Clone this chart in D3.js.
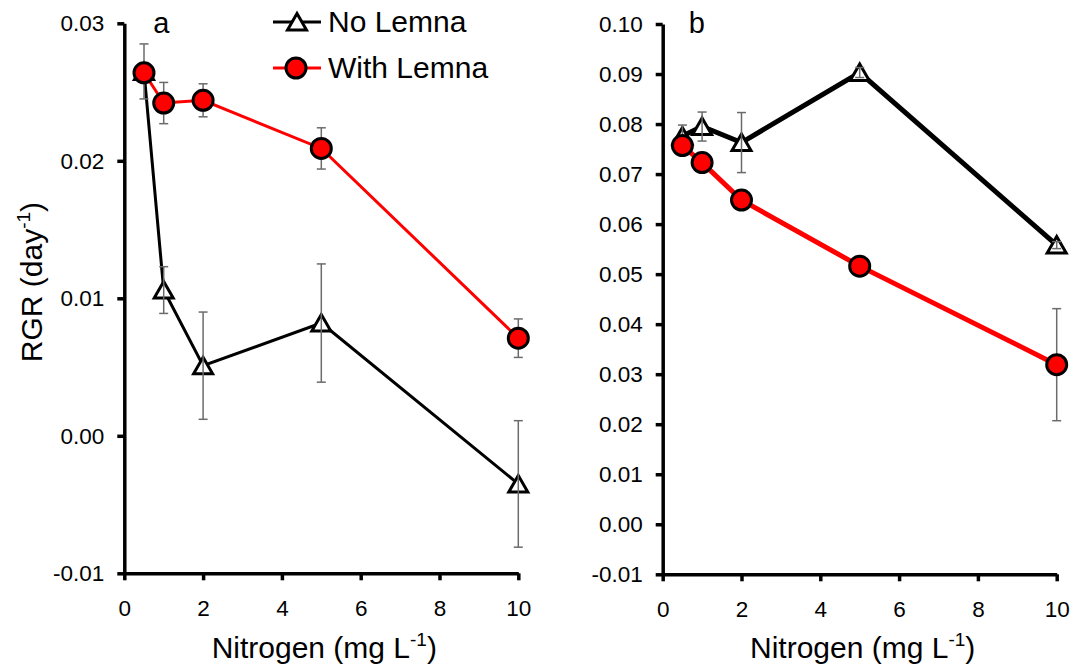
<!DOCTYPE html>
<html>
<head>
<meta charset="utf-8">
<script src="https://cdn.jsdelivr.net/npm/d3@7"></script>
<style>
  body { margin: 0; background: #fff; }
  svg { display: block; font-family: "Liberation Sans", Arial, sans-serif; }
</style>
</head>
<body>
<svg id="chart" width="1074" height="665"></svg>
<script>
// nitrogen levels (mg/L)
const nitrogen = [0.5, 1, 2, 5, 10];
const xTicks = [0, 2, 4, 6, 8, 10];

// panel a
const aNoLemna = [0.0265, 0.0106, 0.0051, 0.0082, -0.0035];
const aNoLemnaErr = [0.0020, 0.0017, 0.0039, 0.0043, 0.0046];
const aWithLemna = [0.0264, 0.0242, 0.0244, 0.0209, 0.0071];
const aWithLemnaErr = [0.0005, 0.0015, 0.0012, 0.0015, 0.0014];
const aTicks = [-0.01, 0, 0.01, 0.02, 0.03];

// panel b
const bNoLemna = [0.0776, 0.0795, 0.0763, 0.0903, 0.0558];
const bNoLemnaErr = [0.0022, 0.0029, 0.0060, 0.0010, 0.0007];
const bWithLemna = [0.0757, 0.0723, 0.0648, 0.0516, 0.0319];
const bWithLemnaErr = [0.0008, 0.0006, 0.0015, 0.0005, 0.0112];
const bTicks = [-0.01, 0, 0.01, 0.02, 0.03, 0.04, 0.05, 0.06, 0.07, 0.08, 0.09, 0.10];

const seriesNames = ["No Lemna", "With Lemna"];

const svg = d3.select("#chart");
svg.append("rect").attr("width", 1074).attr("height", 665).attr("fill", "#fff");

const triPath = "M0,-8.5L9.5,8L-9.5,8Z";

function pack(vals, errs) {
  return nitrogen.map((n, i) => ({ n: n, v: vals[i], e: errs[i] }));
}

function drawPanel(p) {
  const x = d3.scaleLinear().domain([0, 10]).range(p.xr);
  const y = d3.scaleLinear().domain(p.yd).range(p.yr);
  const g = svg.append("g");

  // axes
  const yAxis = g.append("g")
    .attr("transform", `translate(${p.xr[0]},0)`)
    .call(d3.axisLeft(y).tickValues(p.ticks).tickSize(7).tickSizeOuter(0)
      .tickPadding(13).tickFormat((d) => d.toFixed(2)));
  const xAxis = g.append("g")
    .attr("transform", `translate(0,${p.yr[0]})`)
    .call(d3.axisBottom(x).tickValues(xTicks).tickSize(7).tickSizeOuter(0)
      .tickPadding(15).tickFormat((d) => d));
  [yAxis, xAxis].forEach((a) => {
    a.selectAll("path, line").attr("stroke", "#000").attr("stroke-width", 3.5);
    a.selectAll("text").attr("fill", "#000").style("font-size", "22.5px").attr("font-family", null);
  });
  xAxis.selectAll("text").attr("dy", "0.9em");

  const line = d3.line().x((d) => x(d.n)).y((d) => y(d.v));

  function errBars(data) {
    const eb = g.append("g").attr("stroke", "#6b6b6b").attr("stroke-width", 1.5);
    data.forEach((d) => {
      const cx = x(d.n), y1 = y(d.v + d.e), y2 = y(d.v - d.e);
      eb.append("line").attr("x1", cx).attr("x2", cx).attr("y1", y1).attr("y2", y2);
      eb.append("line").attr("x1", cx - 4.5).attr("x2", cx + 4.5).attr("y1", y1).attr("y2", y1);
      eb.append("line").attr("x1", cx - 4.5).attr("x2", cx + 4.5).attr("y1", y2).attr("y2", y2);
    });
  }

  // No Lemna
  const noL = pack(p.noL, p.noLErr);
  g.append("path").datum(noL).attr("d", line)
    .attr("fill", "none").attr("stroke", "#000").attr("stroke-width", p.lw);
  g.selectAll(".tri").data(noL).join("path").attr("class", "tri")
    .attr("d", triPath)
    .attr("transform", (d) => `translate(${x(d.n)},${y(d.v)})`)
    .attr("fill", "#fff").attr("stroke", "#000").attr("stroke-width", 3)
    .attr("stroke-linejoin", "miter");
  errBars(noL);

  // With Lemna
  const withL = pack(p.withL, p.withLErr);
  g.append("path").datum(withL).attr("d", line)
    .attr("fill", "none").attr("stroke", "#ff0000").attr("stroke-width", p.lw);
  errBars(withL);
  g.selectAll(".dot").data(withL).join("circle").attr("class", "dot")
    .attr("cx", (d) => x(d.n)).attr("cy", (d) => y(d.v)).attr("r", 10)
    .attr("fill", "#ff0000").attr("stroke", "#000").attr("stroke-width", 3);

  // panel letter
  g.append("text").attr("x", p.xr[0] + p.letterDx).attr("y", 33)
    .style("font-size", "29px").text(p.letter);

  // x axis title
  const xt = g.append("text")
    .attr("x", (p.xr[0] + p.xr[1]) / 2 + 3).attr("y", 658)
    .attr("text-anchor", "middle").style("font-size", "30px");
  xt.append("tspan").text("Nitrogen (mg L");
  xt.append("tspan").attr("dy", -12).style("font-size", "19px").text("-1");
  xt.append("tspan").attr("dy", 12).text(")");
}

drawPanel({
  xr: [124.3, 518.3], yd: [-0.01, 0.03], yr: [573.3, 23.3], ticks: aTicks,
  noL: aNoLemna, noLErr: aNoLemnaErr, withL: aWithLemna, withLErr: aWithLemnaErr,
  lw: 3, letter: "a", letterDx: 29
});
drawPanel({
  xr: [662.7, 1056.7], yd: [-0.01, 0.10], yr: [574.3, 24], ticks: bTicks,
  noL: bNoLemna, noLErr: bNoLemnaErr, withL: bWithLemna, withLErr: bWithLemnaErr,
  lw: 5, letter: "b", letterDx: 26
});

// y axis title
const yt = svg.append("text")
  .attr("transform", "translate(42,282) rotate(-90)")
  .attr("text-anchor", "middle").style("font-size", "30px");
yt.append("tspan").text("RGR (day");
yt.append("tspan").attr("dy", -12).style("font-size", "19px").text("-1");
yt.append("tspan").attr("dy", 12).text(")");

// legend
const legend = svg.append("g");
seriesNames.forEach((name, i) => {
  const ly = 22 + i * 46;
  const col = i === 0 ? "#000" : "#ff0000";
  legend.append("line").attr("x1", 273).attr("x2", 321).attr("y1", ly).attr("y2", ly)
    .attr("stroke", col).attr("stroke-width", 3);
  if (i === 0) {
    legend.append("path").attr("d", triPath).attr("transform", `translate(297,${ly})`)
      .attr("fill", "#fff").attr("stroke", "#000").attr("stroke-width", 3);
  } else {
    legend.append("circle").attr("cx", 296).attr("cy", ly).attr("r", 10)
      .attr("fill", "#ff0000").attr("stroke", "#000").attr("stroke-width", 3);
  }
  legend.append("text").attr("x", 328).attr("y", ly + 10)
    .style("font-size", "30px").text(name);
});
</script>
</body>
</html>
